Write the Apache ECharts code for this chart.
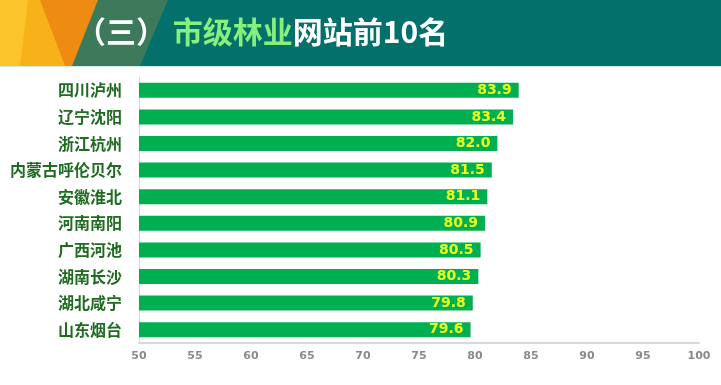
<!DOCTYPE html>
<html>
<head>
<meta charset="utf-8">
<script src="https://cdn.jsdelivr.net/npm/echarts@6/dist/echarts.min.js"></script>
<style>
html,body{margin:0;padding:0;background:#fff;}
#c{width:721px;height:385px;}
</style>
</head>
<body>
<div id="c"></div>
<script>
const categories = ['四川泸州','辽宁沈阳','浙江杭州','内蒙古呼伦贝尔','安徽淮北','河南南阳','广西河池','湖南长沙','湖北咸宁','山东烟台'];
const scores = [83.9, 83.4, 82.0, 81.5, 81.1, 80.9, 80.5, 80.3, 79.8, 79.6];
const xTicks = [50, 55, 60, 65, 70, 75, 80, 85, 90, 95, 100];

const chart = echarts.init(document.getElementById('c'), null, {renderer: 'canvas'});
const cjk = '"Microsoft YaHei","Noto Sans CJK SC",sans-serif';

chart.setOption({
  animation: false,
  backgroundColor: '#ffffff',
  graphic: [
    {type: 'rect', shape: {x: 0, y: 0, width: 721, height: 66}, style: {fill: '#03706b'}, z: 0},
    {type: 'polygon', shape: {points: [[0,0],[100,0],[73,66],[0,66]]}, style: {fill: '#f7b21a'}, z: 1},
    {type: 'polygon', shape: {points: [[0,0],[28,0],[20,66],[0,66]]}, style: {fill: '#fbc42a'}, z: 1},
    {type: 'polygon', shape: {points: [[40,0],[100,0],[73,66],[65,66]]}, style: {fill: '#ee8b13'}, z: 1},
    {type: 'polygon', shape: {points: [[98,0],[168,0],[140,66],[72,66]]}, style: {fill: '#3d7a5b'}, z: 2},
    {type: 'rect', shape: {x: 0, y: 66, width: 721, height: 1}, style: {fill: '#cdeee6'}, z: 2},
    {type: 'text', x: 76, y: 32, z: 5,
      style: {
        verticalAlign: 'middle',
        rich: {
          p: {fill: '#ffffff', fontSize: 30, fontWeight: 'bold', fontFamily: cjk},
          w: {fill: '#ffffff', fontSize: 30, fontWeight: 'bold', fontFamily: cjk, padding: [0, 0, 0, 0]},
          g: {fill: '#86f07c', fontSize: 30, fontWeight: 'bold', fontFamily: cjk}
        },
        text: '{p|（}{w|三}{p|）}{g| 市级林业}{w|网站前10名}'
      }
    }
  ],
  grid: {left: 139, right: 22, top: 77, bottom: 42, containLabel: false},
  xAxis: {
    type: 'value', min: xTicks[0], max: xTicks[xTicks.length - 1], interval: 5,
    axisLine: {show: true, lineStyle: {color: '#d9d9d9', width: 2}},
    axisTick: {show: false},
    splitLine: {show: false},
    axisLabel: {color: '#8a8a8a', fontSize: 11, fontWeight: 'bold', fontFamily: 'DejaVu Sans', margin: 8}
  },
  yAxis: {
    type: 'category', data: categories, inverse: true,
    axisLine: {show: true, lineStyle: {color: '#d9d9d9', width: 1}},
    axisTick: {show: false},
    axisLabel: {color: '#1f6b21', fontSize: 16, fontWeight: 'bold', fontFamily: cjk, margin: 17}
  },
  series: [{
    type: 'bar', data: scores, barWidth: 15,
    itemStyle: {color: '#00b050'},
    label: {show: true, position: 'insideRight', distance: 7, color: '#eeff1c', fontSize: 14, fontWeight: 'bold', fontFamily: 'DejaVu Sans',
      formatter: p => p.value.toFixed(1)}
  }]
});
</script>
</body>
</html>
